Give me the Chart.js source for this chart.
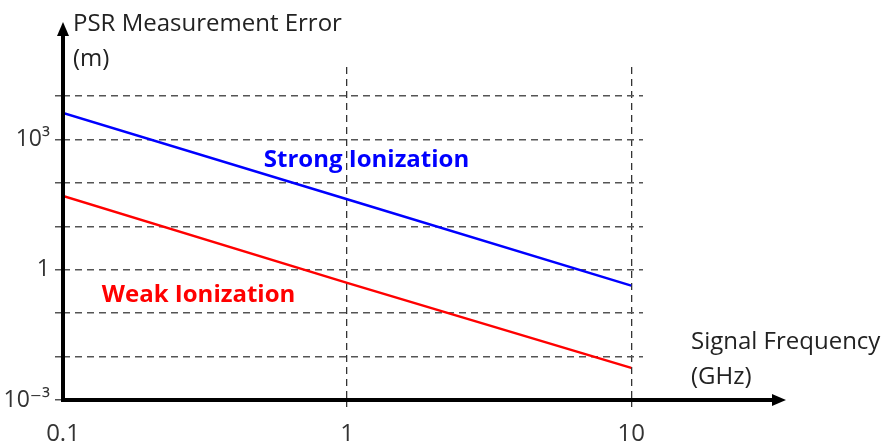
<!DOCTYPE html>
<html>
<head>
<meta charset="utf-8">
<script src="https://cdn.jsdelivr.net/npm/chart.js@4"></script>
<style>
  body { margin: 0; background: #fff; }
  canvas { display: block; }
</style>
</head>
<body>
<canvas id="grafico" width="881" height="446"></canvas>
<script>
// dados
const frequencias = [0.1, 1, 10];            // GHz
const erroForte = [4100, 42, 0.43];          // m, ionizacao forte
const erroFraco = [50, 0.5, 0.0055];         // m, ionizacao fraca
const ticksX = [0.1, 1, 10];
const ticksY = [1e-3, 1e-2, 1e-1, 1, 1e1, 1e2, 1e3, 1e4];
const rotulosY = { '0.001': '10⁻³', '1': '1', '1000': '10³' };

const fonte = '"Open Sans", "DejaVu Sans", sans-serif';

// eixos com setas + textos
const desenhoExtra = {
  id: 'desenhoExtra',
  afterDraw(chart) {
    const ctx = chart.ctx;
    const area = chart.chartArea;
    const sx = chart.scales.x, sy = chart.scales.y;
    ctx.save();
    ctx.strokeStyle = '#000';
    ctx.fillStyle = '#000';
    ctx.lineWidth = 4;
    // eixo y
    ctx.beginPath();
    ctx.moveTo(area.left, area.bottom + 2);
    ctx.lineTo(area.left, 34);
    ctx.stroke();
    ctx.beginPath();
    ctx.moveTo(area.left - 6, 36);
    ctx.lineTo(area.left, 22);
    ctx.lineTo(area.left + 6, 36);
    ctx.closePath();
    ctx.fill();
    // eixo x
    ctx.beginPath();
    ctx.moveTo(area.left - 2, area.bottom);
    ctx.lineTo(774, area.bottom);
    ctx.stroke();
    ctx.beginPath();
    ctx.moveTo(772, area.bottom - 6);
    ctx.lineTo(786, area.bottom);
    ctx.lineTo(772, area.bottom + 6);
    ctx.closePath();
    ctx.fill();

    // titulos dos eixos
    ctx.fillStyle = '#222';
    ctx.font = '24px ' + fonte;
    ctx.textAlign = 'left';
    ctx.textBaseline = 'middle';
    ctx.fillText('PSR Measurement Error', 73, 24);
    ctx.fillText('(m)', 73, 59);
    ctx.fillText('Signal Frequency', 691, 342);
    ctx.fillText('(GHz)', 691, 377);

    // rotulos das series
    ctx.font = 'bold 24px ' + fonte;
    ctx.textAlign = 'center';
    ctx.fillStyle = '#0000ff';
    ctx.fillText('Strong Ionization', sx.getPixelForValue(1.17), sy.getPixelForValue(336));
    ctx.fillStyle = '#ff0000';
    ctx.fillText('Weak Ionization', sx.getPixelForValue(0.30), sy.getPixelForValue(0.26));
    ctx.restore();
  }
};

new Chart(document.getElementById('grafico'), {
  type: 'line',
  data: {
    datasets: [
      {
        label: 'Strong Ionization',
        data: frequencias.map((f, i) => ({ x: f, y: erroForte[i] })),
        borderColor: '#0000ff',
        borderWidth: 2.5,
        pointRadius: 0,
        tension: 0
      },
      {
        label: 'Weak Ionization',
        data: frequencias.map((f, i) => ({ x: f, y: erroFraco[i] })),
        borderColor: '#ff0000',
        borderWidth: 2.5,
        pointRadius: 0,
        tension: 0
      }
    ]
  },
  options: {
    responsive: false,
    animation: false,
    layout: {
      padding: { top: 67, right: 238, left: 0, bottom: 0 }
    },
    plugins: {
      legend: { display: false },
      tooltip: { enabled: false }
    },
    scales: {
      x: {
        type: 'logarithmic',
        min: 0.1,
        max: 11,
        afterBuildTicks: (scale) => { scale.ticks = ticksX.map(v => ({ value: v })); },
        afterFit: (scale) => { scale.height = 46; },
        ticks: {
          color: '#333',
          font: { family: fonte, size: 24 },
          padding: 12,
          maxRotation: 0,
          autoSkip: false,
          callback: (v) => String(v)
        },
        grid: {
          color: (c) => (c.tick && c.tick.value === 0.1) ? 'rgba(0,0,0,0)' : '#333',
          tickColor: (c) => (c.tick && c.tick.value === 0.1) ? 'rgba(0,0,0,0)' : '#333',
          lineWidth: 1.3,
          tickLength: 8,
          tickBorderDash: [7, 5]
        },
        border: { display: false, dash: [7, 5] }
      },
      y: {
        type: 'logarithmic',
        min: 0.001,
        max: 46800,
        afterBuildTicks: (scale) => { scale.ticks = ticksY.map(v => ({ value: v })); },
        afterFit: (scale) => { scale.width = 63; },
        ticks: {
          color: '#333',
          font: { family: fonte, size: 23 },
          padding: 5,
          autoSkip: false,
          callback: (v) => rotulosY[String(v)] || ''
        },
        grid: {
          color: '#555',
          tickColor: '#555',
          lineWidth: 1.5,
          tickLength: 8,
          tickBorderDash: [7, 5]
        },
        border: { display: false, dash: [7, 5] }
      }
    }
  },
  plugins: [desenhoExtra]
});
</script>
</body>
</html>
